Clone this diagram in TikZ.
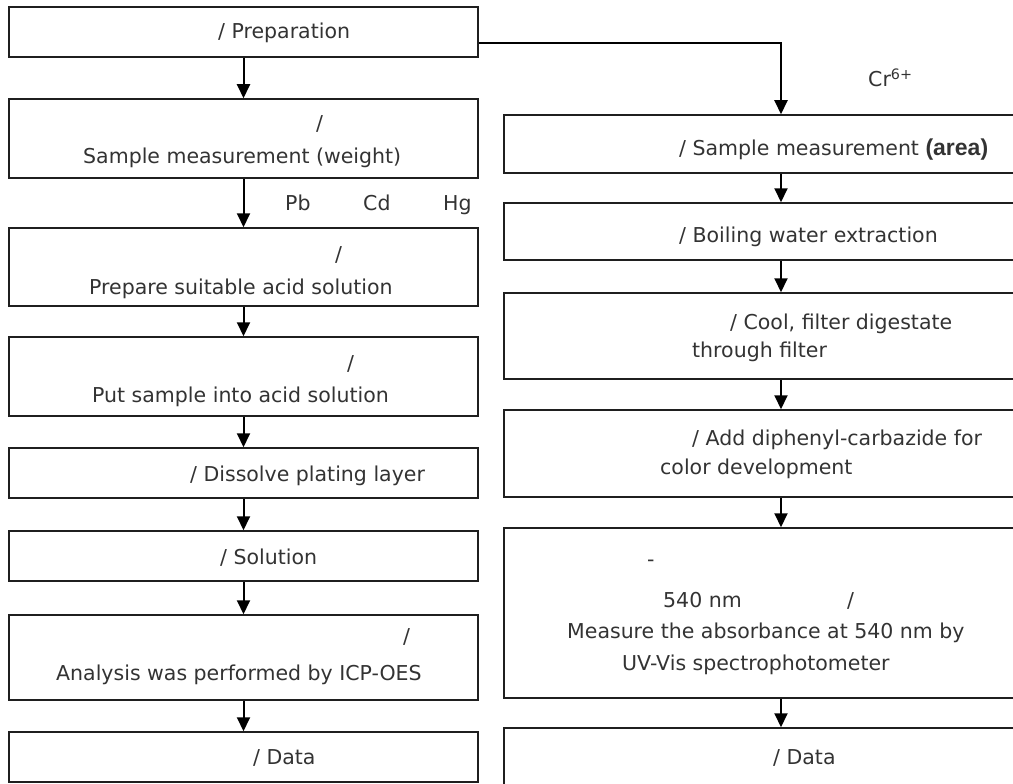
\documentclass[tikz,border=0pt]{standalone}
\usepackage{fontspec}
\setmainfont{DejaVu Sans}
\newfontfamily\arialfont{Liberation Sans}
\usetikzlibrary{arrows.meta}
\tikzset{
  box/.style={draw=black!88, line width=1.5pt, inner sep=0pt},
  lbl/.style={anchor=base west, inner sep=0pt, font=\fontsize{20.5}{22}\selectfont, text=black!80},
  arr/.style={draw=black, line width=2pt, -{Triangle[width=13pt,length=14pt]}},
}
\begin{document}
\begin{tikzpicture}[x=1pt,y=-1pt]
\useasboundingbox[fill=white] (0,0) rectangle (1013,784);
% left column boxes
\node[box, minimum width=469pt, minimum height=50pt] (prep) at (243.5,32) {};
\node[box, minimum width=469pt, minimum height=79pt] (weight) at (243.5,138.5) {};
\node[box, minimum width=469pt, minimum height=78pt] (acid) at (243.5,267) {};
\node[box, minimum width=469pt, minimum height=79pt] (put) at (243.5,376.5) {};
\node[box, minimum width=469pt, minimum height=50pt] (diss) at (243.5,473) {};
\node[box, minimum width=469pt, minimum height=50pt] (sol) at (243.5,556) {};
\node[box, minimum width=469pt, minimum height=85pt] (ana) at (243.5,657.5) {};
\node[box, minimum width=469pt, minimum height=50pt] (ldata) at (243.5,757) {};
% right column boxes
\node[box, minimum width=554pt, minimum height=58pt] (area) at (781,144) {};
\node[box, minimum width=554pt, minimum height=57pt] (boil) at (781,231.5) {};
\node[box, minimum width=554pt, minimum height=86pt] (cool) at (781,336) {};
\node[box, minimum width=554pt, minimum height=87pt] (add) at (781,453.5) {};
\node[box, minimum width=554pt, minimum height=170pt] (meas) at (781,613) {};
\node[box, minimum width=554pt, minimum height=72pt] (rdata) at (781,764) {};
% left arrows
\draw[arr] (prep.south) -- (weight.north);
\draw[arr] (weight.south) -- (acid.north);
\draw[arr] (acid.south) -- (put.north);
\draw[arr] (put.south) -- (diss.north);
\draw[arr] (diss.south) -- (sol.north);
\draw[arr] (sol.south) -- (ana.north);
\draw[arr] (ana.south) -- (ldata.north);
% right arrows
\draw[arr] ([yshift=-11pt]prep.east) -| (area.north);
\draw[arr] (area.south) -- (boil.north);
\draw[arr] (boil.south) -- (cool.north);
\draw[arr] (cool.south) -- (add.north);
\draw[arr] (add.south) -- (meas.north);
\draw[arr] (meas.south) -- (rdata.north);
% left texts
\node[lbl] (t1) at (218,39) {/ Preparation};
\node[lbl] (t2a) at (316,131) {/};
\node[lbl] (t2b) at (83,164) {Sample measurement (weight)};
\node[lbl] (pb) at (285,210) {Pb};
\node[lbl] (cd) at (363,210) {Cd};
\node[lbl] (hg) at (443,210) {Hg};
\node[lbl] (t3a) at (335,261) {/};
\node[lbl] (t3b) at (89,294) {Prepare suitable acid solution};
\node[lbl] (t4a) at (347,370) {/};
\node[lbl] (t4b) at (92,402) {Put sample into acid solution};
\node[lbl] (t5) at (190,481) {/ Dissolve plating layer};
\node[lbl] (t6) at (220,564) {/ Solution};
\node[lbl] (t7a) at (403,643) {/};
\node[lbl] (t7b) at (56,680) {Analysis was performed by ICP-OES};
\node[lbl] (t8) at (253,764) {/ Data};
% right texts
\node[lbl] (cr) at (868,87) {Cr\textsuperscript{6+}};
\node[lbl] (r1) at (679,155) {/ Sample measurement {\arialfont\bfseries\fontsize{23}{24}\selectfont (area)}};
\node[lbl] (r2) at (679,242) {/ Boiling water extraction};
\node[lbl] (r3a) at (730,329) {/ Cool, filter digestate};
\node[lbl] (r3b) at (692,357) {through filter};
\node[lbl] (r4a) at (692,445) {/ Add diphenyl-carbazide for};
\node[lbl] (r4b) at (660,474) {color development};
\node[lbl] (r5a) at (647,566) {-};
\node[lbl] (r5b) at (663,607) {540 nm};
\node[lbl] (r5c) at (847,607) {/};
\node[lbl] (r5d) at (567,638) {Measure the absorbance at 540 nm by};
\node[lbl] (r5e) at (622,670) {UV-Vis spectrophotometer};
\node[lbl] (r6) at (773,764) {/ Data};
\end{tikzpicture}
\end{document}
